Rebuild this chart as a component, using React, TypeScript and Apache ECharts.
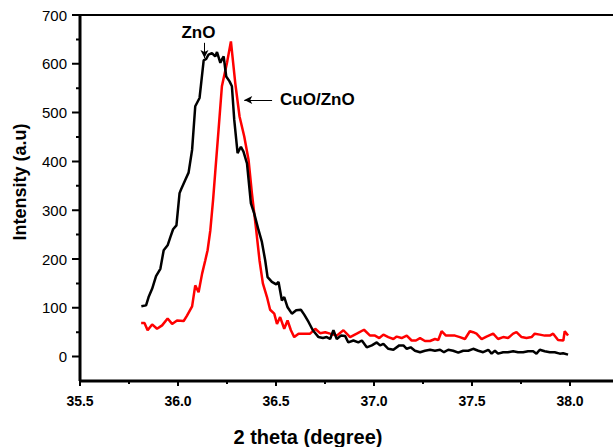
import React, { useEffect, useRef } from "react";
import * as echarts from "echarts";

const znoData: number[][] = [
  [35.813, 103], [35.837, 105], [35.85, 122], [35.868, 139], [35.888, 165], [35.91, 180], [35.927, 218],
  [35.947, 228], [35.961, 245], [35.975, 261], [35.992, 269], [36.008, 335], [36.016, 343], [36.037, 362],
  [36.054, 377], [36.072, 424], [36.088, 513], [36.11, 530], [36.131, 607], [36.144, 610], [36.156, 619],
  [36.173, 622], [36.19, 615], [36.199, 624], [36.216, 602], [36.224, 609], [36.233, 615], [36.246, 574],
  [36.263, 564], [36.275, 554], [36.287, 485], [36.304, 417], [36.321, 430], [36.334, 420], [36.352, 396],
  [36.372, 314], [36.389, 293], [36.411, 259], [36.428, 235], [36.445, 197], [36.457, 163], [36.479, 153],
  [36.501, 148], [36.513, 153], [36.53, 115], [36.542, 122], [36.559, 101], [36.581, 88], [36.603, 95],
  [36.627, 96], [36.644, 86], [36.666, 71], [36.688, 54], [36.717, 40], [36.739, 38], [36.759, 40],
  [36.776, 36], [36.793, 54], [36.81, 36], [36.831, 43], [36.853, 42], [36.869, 29], [36.895, 33],
  [36.92, 29], [36.938, 33], [36.963, 19], [36.989, 23], [37.014, 29], [37.031, 23], [37.048, 26],
  [37.073, 16], [37.099, 14], [37.129, 23], [37.15, 23], [37.167, 16], [37.187, 19], [37.209, 12],
  [37.235, 9], [37.26, 12], [37.286, 14], [37.311, 12], [37.337, 14], [37.357, 9], [37.379, 14],
  [37.404, 12], [37.43, 8], [37.455, 12], [37.481, 12], [37.506, 16], [37.532, 12], [37.557, 9],
  [37.583, 14], [37.6, 6], [37.617, 12], [37.633, 6], [37.659, 9], [37.684, 9], [37.71, 11],
  [37.735, 9], [37.761, 9], [37.786, 11], [37.812, 11], [37.829, 6], [37.846, 14], [37.871, 11],
  [37.897, 9], [37.922, 9], [37.948, 6], [37.965, 7], [37.99, 4],
];

const cuoZnoData: number[][] = [
  [35.812, 69], [35.829, 69], [35.845, 54], [35.868, 66], [35.893, 57], [35.919, 64], [35.947, 78],
  [35.97, 67], [35.995, 74], [36.029, 73], [36.046, 84], [36.072, 103], [36.088, 146], [36.105, 132],
  [36.123, 170], [36.139, 197], [36.151, 218], [36.165, 259], [36.179, 321], [36.19, 378], [36.207, 465],
  [36.224, 554], [36.25, 602], [36.27, 646], [36.292, 561], [36.314, 492], [36.338, 451], [36.36, 403],
  [36.377, 335], [36.399, 259], [36.416, 197], [36.433, 150], [36.454, 122], [36.47, 96], [36.491, 88],
  [36.505, 67], [36.521, 81], [36.542, 57], [36.559, 74], [36.576, 54], [36.593, 40], [36.615, 47],
  [36.64, 47], [36.674, 47], [36.7, 57], [36.725, 48], [36.751, 50], [36.776, 47], [36.81, 43],
  [36.844, 54], [36.878, 40], [36.912, 47], [36.949, 55], [36.98, 43], [37.005, 43], [37.027, 38],
  [37.048, 45], [37.073, 40], [37.099, 36], [37.116, 41], [37.141, 38], [37.167, 43], [37.192, 33],
  [37.214, 33], [37.235, 38], [37.26, 32], [37.286, 32], [37.311, 36], [37.328, 34], [37.345, 52],
  [37.367, 43], [37.387, 43], [37.413, 43], [37.438, 40], [37.464, 36], [37.489, 52], [37.506, 50],
  [37.523, 47], [37.549, 36], [37.574, 41], [37.608, 47], [37.633, 36], [37.659, 40], [37.684, 38],
  [37.71, 47], [37.727, 50], [37.753, 40], [37.778, 38], [37.804, 40], [37.82, 47], [37.846, 45],
  [37.871, 43], [37.897, 43], [37.914, 47], [37.939, 34], [37.966, 33], [37.973, 52], [37.99, 43],
];

const xMajorTicks = [35.5, 36.0, 36.5, 37.0, 37.5, 38.0];
const xMinorTicks = [35.75, 36.25, 36.75, 37.25, 37.75];
const yMajorTicks = [0, 100, 200, 300, 400, 500, 600, 700];
const yMinorTicks = [50, 150, 250, 350, 450, 550, 650];

// annotation arrows: [x, yStart, yEnd] and [xStart, xEnd, y]
const znoArrow = [36.135, 643, 612];
const cuoArrow = [36.48, 36.338, 526];

const FONT = "Liberation Sans, Arial, Helvetica, sans-serif";

// plot frame (data units) and where it sits on the 613x447 canvas
const X_MIN = 35.5;
const Y_MIN = -50;
const Y_MAX = 700;
const W = 613;
const H = 447;
const PLOT_LEFT = 80;
const PLOT_TOP = 15;
const PLOT_BOTTOM = 381;
const PX_PER_X = 196;
const PX_PER_Y = (PLOT_BOTTOM - PLOT_TOP) / (Y_MAX - Y_MIN);

// the grid covers the whole canvas; axis extents are extended to match
const AX_X_MIN = X_MIN - PLOT_LEFT / PX_PER_X;
const AX_X_MAX = X_MIN + (W - PLOT_LEFT) / PX_PER_X;
const AX_Y_MAX = Y_MAX + PLOT_TOP / PX_PER_Y;
const AX_Y_MIN = Y_MIN - (H - PLOT_BOTTOM) / PX_PER_Y;

const yTickPath: number[][] = [
  ...yMajorTicks.map((v) => [v, 8]),
  ...yMinorTicks.map((v) => [v, 4]),
]
  .sort((a, b) => a[0] - b[0])
  .flatMap(([v, len]) => [[X_MIN, v], [X_MIN - len / PX_PER_X, v], [X_MIN, v]]);

const xTickPath: number[][] = [
  ...xMajorTicks.map((v) => [v, 5]),
  ...xMinorTicks.map((v) => [v, 3]),
]
  .sort((a, b) => a[0] - b[0])
  .flatMap(([v, len]) => [[v, Y_MIN], [v, Y_MIN - len / PX_PER_Y], [v, Y_MIN]]);

export default function App() {
  const ref = useRef<HTMLDivElement>(null);

  useEffect(() => {
    if (!ref.current) return;
    const chart = echarts.init(ref.current, undefined, { renderer: "svg" });

    const frameSeries = (name: string, data: number[][], width: number) => ({
      name,
      type: "line",
      data,
      silent: true,
      showSymbol: false,
      symbol: "none",
      z: 6,
      lineStyle: { color: "#000", width, join: "bevel", cap: "butt" },
    });

    const option: any = {
      animation: false,
      grid: { left: 0, top: 0, width: W, height: H },
      xAxis: {
        type: "value",
        min: AX_X_MIN,
        max: AX_X_MAX,
        offset: -(H - PLOT_BOTTOM),
        axisLine: { show: false },
        axisTick: { show: false },
        splitLine: { show: false },
        axisLabel: {
          show: true,
          customValues: xMajorTicks,
          formatter: (v: number) => v.toFixed(1),
          fontFamily: FONT,
          fontWeight: "bold",
          fontSize: 14,
          color: "#000",
          margin: 13,
        },
      },
      yAxis: {
        type: "value",
        min: AX_Y_MIN,
        max: AX_Y_MAX,
        offset: -PLOT_LEFT,
        axisLine: { show: false },
        axisTick: { show: false },
        splitLine: { show: false },
        axisLabel: {
          show: true,
          customValues: yMajorTicks,
          formatter: (v: number) => String(Math.round(v)),
          fontFamily: FONT,
          fontSize: 15,
          color: "#000",
          margin: 13,
        },
      },
      graphic: [
        {
          type: "text",
          x: 20,
          y: 182,
          rotation: Math.PI / 2,
          style: {
            text: "Intensity (a.u)",
            font: `bold 18px ${FONT}`,
            fill: "#000",
            textAlign: "center",
            textVerticalAlign: "middle",
          },
        },
        {
          type: "text",
          x: 308,
          y: 437,
          style: {
            text: "2 theta (degree)",
            font: `bold 20px ${FONT}`,
            fill: "#000",
            textAlign: "center",
            textVerticalAlign: "middle",
          },
        },
      ],
      series: [
        {
          name: "ZnO",
          type: "line",
          data: znoData,
          showSymbol: false,
          symbol: "none",
          lineStyle: { color: "#000", width: 2.5 },
          z: 3,
          markLine: {
            silent: true,
            symbol: ["none", "arrow"],
            symbolSize: [6, 8],
            lineStyle: { color: "#000", width: 1, type: "solid" },
            label: {
              show: true,
              position: "start",
              formatter: "ZnO",
              fontFamily: FONT,
              fontWeight: "bold",
              fontSize: 17,
              color: "#000",
              distance: 2,
              padding: [0, 12, 0, 0],
            },
            data: [[{ coord: [znoArrow[0], znoArrow[1]] }, { coord: [znoArrow[0], znoArrow[2]] }]],
          },
        },
        {
          name: "CuO/ZnO",
          type: "line",
          data: cuoZnoData,
          showSymbol: false,
          symbol: "none",
          lineStyle: { color: "#ff0000", width: 2.5 },
          z: 2,
          markLine: {
            silent: true,
            symbol: ["none", "arrow"],
            symbolSize: [6, 8],
            lineStyle: { color: "#000", width: 1, type: "solid" },
            label: {
              show: true,
              position: "start",
              formatter: "CuO/ZnO",
              fontFamily: FONT,
              fontWeight: "bold",
              fontSize: 17,
              color: "#000",
              distance: 8,
            },
            data: [[{ coord: [cuoArrow[0], cuoArrow[2]] }, { coord: [cuoArrow[1], cuoArrow[2]] }]],
          },
        },
        frameSeries("yTicks", yTickPath, 2),
        frameSeries("xTicks", xTickPath, 2),
        frameSeries("leftAxis", [[X_MIN, Y_MIN], [X_MIN, Y_MAX]], 3),
        frameSeries("bottomAxis", [[X_MIN, Y_MIN], [AX_X_MAX, Y_MIN]], 3),
        frameSeries("topFrame", [[X_MIN, Y_MAX], [AX_X_MAX, Y_MAX]], 2),
      ],
    };

    chart.setOption(option);
    return () => chart.dispose();
  }, []);

  return (
    <div
      ref={ref}
      style={{ position: "fixed", left: 0, top: 0, width: W, height: H, background: "#fff" }}
    />
  );
}
